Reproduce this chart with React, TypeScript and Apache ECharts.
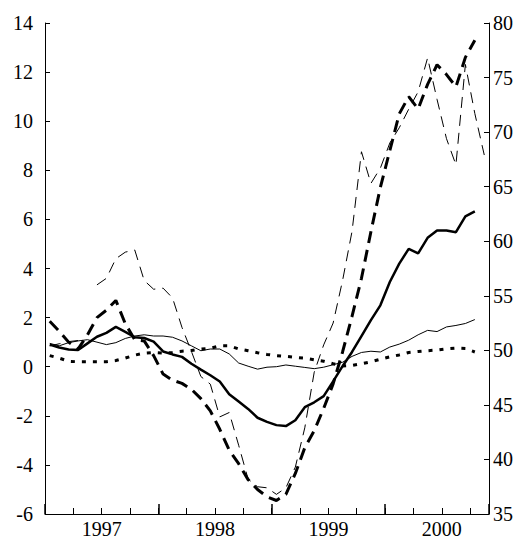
import React, { useEffect, useRef } from "react";
import * as echarts from "echarts";

const yearLabels = ["1997", "1998", "1999", "2000"];
const yearLabelPos = [6, 18, 30, 42];

const thickSolid = [
  0.9, 0.78, 0.7, 0.68, 0.95, 1.22, 1.38, 1.62, 1.42, 1.2,
  1.17, 1.02, 0.62, 0.5, 0.4, 0.12, -0.12, -0.35, -0.6, -1.12,
  -1.42, -1.72, -2.08, -2.25, -2.38, -2.42, -2.18, -1.65, -1.45, -1.2,
  -0.6, 0.02, 0.6, 1.25, 1.9, 2.5, 3.45, 4.2, 4.8, 4.62,
  5.25, 5.55, 5.55, 5.48, 6.12, 6.33,
];
const thickDashed = [
  1.85, 1.45, 1.0, 0.72, 1.3, 2.0, 2.3, 2.7, 1.75, 1.1,
  1.05, 0.45, -0.3, -0.55, -0.68, -0.92, -1.3, -1.8, -2.55, -3.4,
  -3.95, -4.6, -5.0, -5.3, -5.45, -5.2, -4.35, -3.3, -2.6, -1.7,
  -0.7, 0.6, 2.05, 3.6, 5.5, 7.3, 8.8, 10.3, 11.0, 10.5,
  11.5, 12.3, 11.9, 11.4, 12.6, 13.3,
];
const thinSolid = [
  0.95, 0.85, 0.98, 1.05, 1.1, 1.0, 0.9, 0.98, 1.15, 1.25,
  1.3, 1.25, 1.25, 1.2, 1.05, 0.85, 0.65, 0.72, 0.72, 0.52,
  0.15, 0.02, -0.1, -0.02, 0.0, 0.07, 0.02, -0.03, -0.08, -0.02,
  0.08, 0.18, 0.42, 0.58, 0.63, 0.6, 0.8, 0.92, 1.08, 1.3,
  1.48, 1.43, 1.62, 1.68, 1.76, 1.92,
];
const dotted = [
  0.45, 0.35, 0.22, 0.2, 0.2, 0.2, 0.2, 0.25, 0.35, 0.47,
  0.55, 0.58, 0.55, 0.58, 0.63, 0.66, 0.72, 0.75, 0.85, 0.85,
  0.72, 0.65, 0.57, 0.5, 0.45, 0.42, 0.38, 0.35, 0.28, 0.22,
  0.12, 0.03, 0.05, 0.12, 0.2, 0.3, 0.4, 0.48, 0.58, 0.62,
  0.65, 0.68, 0.73, 0.76, 0.74, 0.6,
];
const thinDashed: (number | null)[] = [
  50.4, 50.6, 50.8, 50.9, null, 56.0, 56.6, 58.4, 59.0, 59.2,
  56.4, 55.6, 55.7, 54.8, 52.1, 49.9, 47.6, 46.9, 43.9, 44.3,
  41.3, 38.2, 37.5, 37.4, 36.8, 37.4, 39.3, 42.9, 48.0, 50.5,
  52.5, 56.4, 60.9, 68.2, 65.3, 66.7, 69.0, 70.4, 72.1, 73.7,
  76.8, 73.0, 69.4, 67.0, 76.2, 71.7, 67.9,
];

const leftTicks = { min: -6, max: 14, interval: 2 };
const rightTicks = { min: 35, max: 80, interval: 5 };

const toPts = (arr: (number | null)[]) => arr.map((v, i) => [i + 0.5, v]);

const FONT = "Liberation Serif";

export default function App() {
  const ref = useRef<HTMLDivElement>(null);
  useEffect(() => {
    document.body.style.margin = "0";
    if (!ref.current) return;
    const chart = echarts.init(ref.current, undefined, { renderer: "svg" });
    const lbl = { color: "#000", fontFamily: FONT, fontSize: 20 };
    const tickAxis = (interval: number, len: number, w: number) => ({
      type: "value",
      min: 0,
      max: 47,
      interval,
      position: "bottom",
      axisLine: { show: false, onZero: false },
      axisTick: { show: true, inside: true, length: len, lineStyle: { color: "#000", width: w } },
      axisLabel: { show: false },
      splitLine: { show: false },
    });
    chart.setOption({
      animation: false,
      backgroundColor: "#fff",
      grid: { left: 45, right: 39, top: 23, bottom: 24, containLabel: false },
      xAxis: [
        {
          type: "value",
          min: 0,
          max: 47,
          interval: 6,
          position: "bottom",
          axisLine: { show: true, onZero: false, lineStyle: { color: "#000", width: 1 } },
          axisTick: { show: false },
          axisLabel: {
            ...lbl,
            margin: 5,
            formatter: (v: number) => {
              const k = yearLabelPos.indexOf(v);
              return k >= 0 ? yearLabels[k] : "";
            },
          },
          splitLine: { show: false },
        },
        tickAxis(12, 10, 1.5),
        tickAxis(3, 6, 1),
      ],
      yAxis: [
        {
          type: "value",
          ...leftTicks,
          position: "left",
          axisLine: { show: true, onZero: false, lineStyle: { color: "#000", width: 1 } },
          axisTick: { show: true, inside: true, length: 5, lineStyle: { color: "#000", width: 1 } },
          axisLabel: { ...lbl, margin: 12 },
          splitLine: { show: false },
        },
        {
          type: "value",
          ...rightTicks,
          position: "right",
          axisLine: { show: true, onZero: false, lineStyle: { color: "#000", width: 1 } },
          axisTick: { show: true, inside: true, length: 5, lineStyle: { color: "#000", width: 1 } },
          axisLabel: { ...lbl, margin: 4 },
          splitLine: { show: false },
        },
      ],
      series: [
        { type: "line", data: toPts(dotted), symbol: "none", lineStyle: { color: "#000", width: 3, type: [4, 7], cap: "butt" } },
        { type: "line", data: toPts(thinSolid), symbol: "none", lineStyle: { color: "#000", width: 1 } },
        { type: "line", yAxisIndex: 1, data: toPts(thinDashed), symbol: "none", connectNulls: false, lineStyle: { color: "#000", width: 1, type: [11, 7] } },
        { type: "line", data: toPts(thickDashed), symbol: "none", lineStyle: { color: "#000", width: 3, type: [12, 7] } },
        { type: "line", data: toPts(thickSolid), symbol: "none", lineStyle: { color: "#000", width: 2.5 } },
      ],
    });
    return () => chart.dispose();
  }, []);
  return <div ref={ref} style={{ width: 528, height: 539 }} />;
}
